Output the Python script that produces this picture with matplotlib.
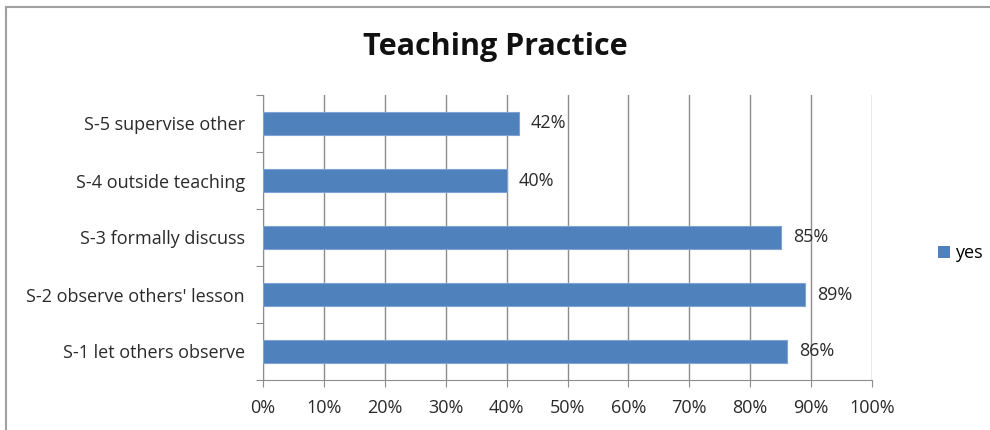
import matplotlib.pyplot as plt
from matplotlib.lines import Line2D
from matplotlib.patches import Patch
import numpy as np

categories = ['S-1 let others observe', "S-2 observe others' lesson", 'S-3 formally discuss',
              'S-4 outside teaching', 'S-5 supervise other']
yes_pct = [86, 89, 85, 40, 42]
x_ticks = list(range(0, 101, 10))

plt.rcParams['font.family'] = ['Open Sans', 'DejaVu Sans']

fig = plt.figure(figsize=(9.9, 4.3), dpi=100)
ax = fig.add_axes([263 / 990, 1 - 380 / 430, 609 / 990, 285 / 430])

bar_color = '#4F81BD'
grid_color = '#8C8C8C'
text_color = '#2A2A2A'
pos = np.arange(len(categories))
ax.barh(pos, yes_pct, height=0.39, color=bar_color, edgecolor='#7FA3D2', linewidth=0.8, zorder=3)

for y, v in zip(pos, yes_pct):
    ax.text(v + 2, y, f'{v}%', va='center', ha='left', fontsize=13, color=text_color, zorder=4)

ax.set_xlim(0, 100)
ax.set_ylim(-0.5, len(categories) - 0.5)
ax.set_xticks(x_ticks)
ax.set_xticklabels([f'{t}%' for t in x_ticks], fontsize=13, color=text_color)
ax.tick_params(axis='x', length=5, color=grid_color, pad=9)

# category boundaries get the tick marks, the labels sit in between
ax.set_yticks(np.arange(-0.5, len(categories), 1.0))
ax.set_yticklabels([])
ax.tick_params(axis='y', which='major', length=5, color=grid_color)
ax.set_yticks(pos, minor=True)
ax.set_yticklabels(categories, minor=True, fontsize=13, color=text_color)
ax.tick_params(axis='y', which='minor', length=0, pad=13)

ax.grid(axis='x', color=grid_color, linewidth=1, zorder=0)
for side in ['top', 'right']:
    ax.spines[side].set_visible(False)
for side in ['left', 'bottom']:
    ax.spines[side].set_color(grid_color)

fig.text(0.5, 1 - 47 / 430, 'Teaching Practice', ha='center', va='center',
         fontsize=22, fontweight='bold', color='#111111')

fig.legend(handles=[Patch(facecolor=bar_color, label='yes')], loc='center left',
           bbox_to_anchor=(929 / 990, 1 - 253 / 430), frameon=False, fontsize=13,
           handlelength=0.65, handleheight=0.65, handletextpad=0.3, borderpad=0)

# outer chart frame
fig.add_artist(Line2D([6 / 990, 1], [1 - 7 / 430] * 2, color='#A0A0A0', linewidth=1.5))
fig.add_artist(Line2D([6 / 990] * 2, [0, 1 - 7 / 430], color='#A0A0A0', linewidth=1.5))

fig.savefig('out.png', dpi=100)
